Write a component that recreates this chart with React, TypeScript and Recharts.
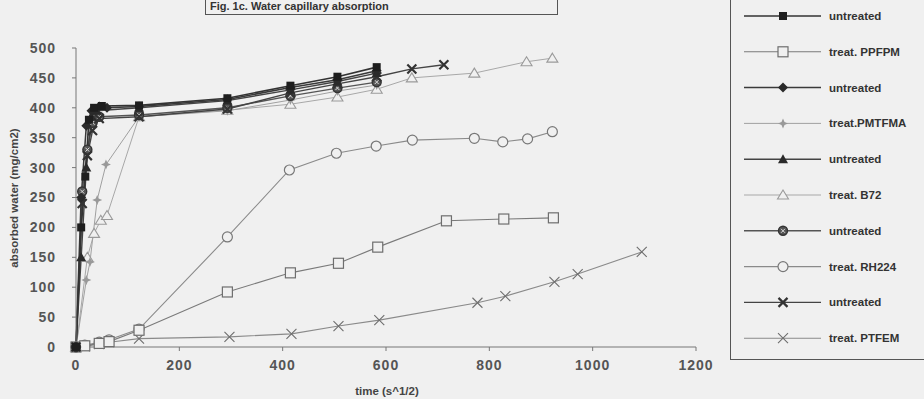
import { Legend, Line, LineChart, XAxis, YAxis } from 'recharts';

// time (s^1/2) and absorbed water (mg/cm2)
const unSqT = [0, 10, 18, 25, 35, 50, 122, 293, 415, 506, 582];
const unSqV = [0, 200, 285, 380, 400, 403, 404, 416, 437, 452, 468];

const ppfpmT = [0, 17, 45, 64, 122, 293, 415, 508, 584, 717, 828, 924];
const ppfpmV = [0, 2, 6, 9, 28, 92, 124, 140, 167, 211, 214, 216];

const unDiT = [0, 10, 20, 30, 45, 60, 122, 293, 415, 506, 582];
const unDiV = [0, 250, 370, 395, 402, 400, 402, 414, 434, 447, 462];

const pmtfmaT = [0, 20, 27, 41, 58, 122, 293, 415, 506, 582];
const pmtfmaV = [0, 112, 142, 246, 305, 385, 395, 413, 428, 438];

const unTrT = [0, 10, 20, 30, 40, 122, 293, 415, 506, 582];
const unTrV = [0, 150, 300, 385, 395, 400, 412, 430, 444, 458];

const b72T = [0, 22, 35, 48, 60, 122, 293, 415, 506, 582, 650, 771, 872, 922];
const b72V = [0, 150, 190, 212, 220, 385, 396, 406, 418, 431, 450, 458, 477, 483];

const unCxT = [0, 12, 22, 32, 45, 122, 293, 415, 506, 582];
const unCxV = [0, 260, 330, 375, 385, 388, 400, 420, 433, 443];

const rh224T = [0, 17, 45, 64, 122, 293, 413, 504, 581, 651, 771, 826, 874, 922];
const rh224V = [0, 3, 8, 12, 30, 184, 296, 324, 336, 346, 349, 343, 348, 360];

const unXT = [0, 12, 22, 32, 45, 122, 293, 415, 506, 582, 650, 712];
const unXV = [0, 240, 320, 362, 382, 385, 398, 425, 440, 452, 465, 472];

const ptfemT = [0, 17, 45, 64, 122, 297, 417, 508, 587, 777, 831, 926, 971, 1095];
const ptfemV = [0, 1, 5, 8, 14, 17, 22, 35, 45, 74, 85, 109, 122, 159];

const xTicks = [0, 200, 400, 600, 800, 1000, 1200];
const yTicks = [0, 50, 100, 150, 200, 250, 300, 350, 400, 450, 500];

type Kind = 'sqF' | 'sqO' | 'diF' | 'star' | 'trF' | 'trO' | 'cx' | 'ciO' | 'xB' | 'xT';

type Series = {
  name: string;
  t: number[];
  v: number[];
  kind: Kind;
  line: string;
  lw: number;
  mark: string;
};

const BG = '#f0f0f0';

const series: Series[] = [
  { name: 'treat. PTFEM', t: ptfemT, v: ptfemV, kind: 'xT', line: '#8a8a8a', lw: 1.1, mark: '#6e6e6e' },
  { name: 'treat. RH224', t: rh224T, v: rh224V, kind: 'ciO', line: '#8a8a8a', lw: 1.1, mark: '#777' },
  { name: 'treat. PPFPM', t: ppfpmT, v: ppfpmV, kind: 'sqO', line: '#7a7a7a', lw: 1.1, mark: '#6e6e6e' },
  { name: 'treat. B72', t: b72T, v: b72V, kind: 'trO', line: '#a8a8a8', lw: 1, mark: '#9a9a9a' },
  { name: 'treat.PMTFMA', t: pmtfmaT, v: pmtfmaV, kind: 'star', line: '#a0a0a0', lw: 1, mark: '#999' },
  { name: 'untreated', t: unCxT, v: unCxV, kind: 'cx', line: '#555', lw: 1.4, mark: '#333' },
  { name: 'untreated', t: unXT, v: unXV, kind: 'xB', line: '#444', lw: 1.4, mark: '#333' },
  { name: 'untreated', t: unTrT, v: unTrV, kind: 'trF', line: '#444', lw: 1.4, mark: '#2a2a2a' },
  { name: 'untreated', t: unDiT, v: unDiV, kind: 'diF', line: '#3a3a3a', lw: 1.5, mark: '#2a2a2a' },
  { name: 'untreated', t: unSqT, v: unSqV, kind: 'sqF', line: '#333', lw: 1.6, mark: '#1e1e1e' },
];

// legend order as printed on the figure
const legendOrder = [9, 2, 8, 4, 7, 3, 5, 1, 6, 0];

function Mark({ cx, cy, kind, color }: { cx: number; cy: number; kind: Kind; color: string }) {
  if (cx == null || cy == null) return null;
  switch (kind) {
    case 'sqF':
      return <rect x={cx - 4} y={cy - 4} width={8} height={8} fill={color} />;
    case 'sqO':
      return <rect x={cx - 5} y={cy - 5} width={10} height={10} fill={BG} stroke={color} strokeWidth={1.2} />;
    case 'diF':
      return <polygon points={`${cx},${cy - 5} ${cx + 5},${cy} ${cx},${cy + 5} ${cx - 5},${cy}`} fill={color} />;
    case 'star':
      return (
        <polygon
          points={`${cx},${cy - 5} ${cx + 1.5},${cy - 1.5} ${cx + 5},${cy} ${cx + 1.5},${cy + 1.5} ${cx},${cy + 5} ${cx - 1.5},${cy + 1.5} ${cx - 5},${cy} ${cx - 1.5},${cy - 1.5}`}
          fill={color}
        />
      );
    case 'trF':
      return <polygon points={`${cx},${cy - 5} ${cx + 5},${cy + 4} ${cx - 5},${cy + 4}`} fill={color} />;
    case 'trO':
      return <polygon points={`${cx},${cy - 5} ${cx + 5.5},${cy + 4} ${cx - 5.5},${cy + 4}`} fill={BG} stroke={color} strokeWidth={1.1} />;
    case 'cx':
      return (
        <g>
          <circle cx={cx} cy={cy} r={4.5} fill="#555" stroke={color} strokeWidth={1.4} />
          <path d={`M${cx - 2} ${cy - 2}L${cx + 2} ${cy + 2}M${cx + 2} ${cy - 2}L${cx - 2} ${cy + 2}`} stroke="#ddd" strokeWidth={1} />
        </g>
      );
    case 'ciO':
      return <circle cx={cx} cy={cy} r={5} fill={BG} stroke={color} strokeWidth={1.2} />;
    case 'xB':
      return <path d={`M${cx - 4.5} ${cy - 4.5}L${cx + 4.5} ${cy + 4.5}M${cx + 4.5} ${cy - 4.5}L${cx - 4.5} ${cy + 4.5}`} stroke={color} strokeWidth={2.2} />;
    case 'xT':
      return <path d={`M${cx - 5} ${cy - 5}L${cx + 5} ${cy + 5}M${cx + 5} ${cy - 5}L${cx - 5} ${cy + 5}`} stroke={color} strokeWidth={1.1} />;
  }
  return null;
}

function LegendBox() {
  return (
    <div style={{ width: 230, height: 370, border: '1.3px solid #555', boxSizing: 'border-box', background: BG }}>
      <svg width={230} height={370}>
        {legendOrder.map((idx, i) => {
          const s = series[idx];
          const y = 25 + i * 35.8;
          return (
            <g key={i}>
              <line x1={13} x2={90} y1={y} y2={y} stroke={s.line} strokeWidth={s.lw} />
              <Mark cx={52} cy={y} kind={s.kind} color={s.mark} />
              <text x={98} y={y + 4} fontSize={11.5} fontWeight="bold" fill="#333" fontFamily="Liberation Sans, Arial, sans-serif">
                {s.name}
              </text>
            </g>
          );
        })}
      </svg>
    </div>
  );
}

export default function App() {
  const font = 'Liberation Sans, Arial, sans-serif';
  return (
    <div style={{ position: 'absolute', left: 0, top: 0, width: 924, height: 399, background: BG, overflow: 'hidden' }}>
      <div
        style={{
          position: 'absolute',
          left: 205,
          top: -2,
          width: 353,
          height: 17,
          border: '1.5px solid #555',
          boxSizing: 'border-box',
          fontFamily: font,
          fontWeight: 'bold',
          fontSize: 11,
          color: '#333',
          paddingLeft: 4,
          lineHeight: '15px',
        }}
      >
        Fig. 1c. Water capillary absorption
      </div>
      <LineChart width={924} height={399} margin={{ top: 48, right: 228, bottom: 22, left: 0 }}>
        <XAxis
          dataKey="t"
          type="number"
          domain={[0, 1200]}
          ticks={xTicks}
          allowDuplicatedCategory={false}
          stroke="#777"
          tickSize={4}
          tickMargin={9}
          height={30}
          tick={{ fill: '#555', fontSize: 14, fontWeight: 'bold', fontFamily: font, letterSpacing: 1 }}
          label={{
            content: () => (
              <text x={387} y={395} textAnchor="middle" fontSize={11.5} fontWeight="bold" fill="#444" fontFamily={font}>
                time (s^1/2)
              </text>
            ),
          }}
        />
        <YAxis
          dataKey="v"
          type="number"
          domain={[0, 500]}
          ticks={yTicks}
          stroke="#777"
          width={76}
          tickSize={4}
          tickMargin={16}
          tick={{ fill: '#555', fontSize: 14, fontWeight: 'bold', fontFamily: font, letterSpacing: 1 }}
          label={{
            content: () => (
              <text
                x={18}
                y={198}
                transform="rotate(-90 18 198)"
                textAnchor="middle"
                fontSize={11.5}
                fontWeight="bold"
                fill="#444"
                fontFamily={font}
              >
                absorbed water (mg/cm2)
              </text>
            ),
          }}
        />
        {series.map((s, si) => (
          <Line
            key={si}
            data={s.t.map((t, i) => ({ t, v: s.v[i] }))}
            dataKey="v"
            name={s.name}
            type="linear"
            stroke={s.line}
            strokeWidth={s.lw}
            isAnimationActive={false}
            dot={(p: any) => <Mark key={`${si}-${p.index}`} cx={p.cx} cy={p.cy} kind={s.kind} color={s.mark} />}
            activeDot={false}
          />
        ))}
        <Legend
          layout="vertical"
          align="center"
          verticalAlign="middle"
          content={() => <LegendBox />}
          wrapperStyle={{ left: 730, top: -10, width: 230, height: 370 }}
        />
      </LineChart>
    </div>
  );
}
